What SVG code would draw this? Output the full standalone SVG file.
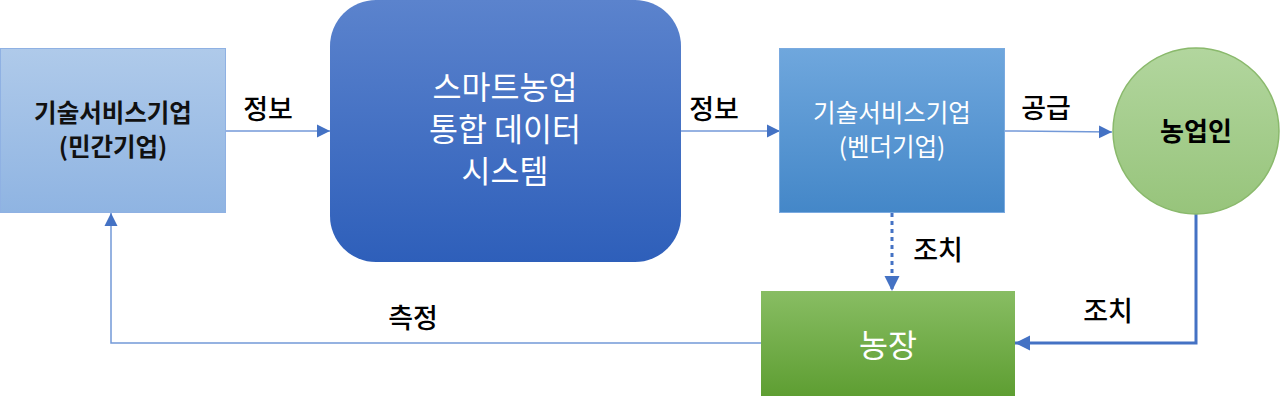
<svg xmlns="http://www.w3.org/2000/svg" width="1280" height="396" viewBox="0 0 1280 396">
<style>
text{font-family:"Noto Sans CJK KR","Noto Sans",sans-serif;text-anchor:middle}
.lbl{font-size:27px;fill:#000;font-weight:500}
.thin{stroke:#7399d8;stroke-width:1.5;fill:none}
.thick{stroke:#4472c4;stroke-width:3;fill:none}
</style>
<defs>
<linearGradient id="g1" x1="0" y1="0" x2="0" y2="1"><stop offset="0" stop-color="#afcaea"/><stop offset="1" stop-color="#8fb4e2"/></linearGradient>
<linearGradient id="g2" x1="0" y1="0" x2="0" y2="1"><stop offset="0" stop-color="#5b83cd"/><stop offset="1" stop-color="#2e5fba"/></linearGradient>
<linearGradient id="g3" x1="0" y1="0" x2="0" y2="1"><stop offset="0" stop-color="#6fa7dd"/><stop offset="1" stop-color="#4487c8"/></linearGradient>
<linearGradient id="g4" x1="0" y1="0" x2="0" y2="1"><stop offset="0" stop-color="#b2d69e"/><stop offset="1" stop-color="#97c47b"/></linearGradient>
<linearGradient id="g5" x1="0" y1="0" x2="0" y2="1"><stop offset="0" stop-color="#88bd63"/><stop offset="1" stop-color="#5e9e32"/></linearGradient>
<marker id="ah" viewBox="0 0 10 10" refX="10" refY="5" markerWidth="13" markerHeight="14" markerUnits="userSpaceOnUse" orient="auto"><path d="M0,0L10,5L0,10z" fill="#4472c4"/></marker>
<marker id="ahb" viewBox="0 0 10 10" refX="10" refY="5" markerWidth="15" markerHeight="17" markerUnits="userSpaceOnUse" orient="auto"><path d="M0,0L10,5L0,10z" fill="#4472c4"/></marker>
</defs>
<g id="connectors">
<line class="thin" x1="226" y1="131" x2="330" y2="131" marker-end="url(#ah)"/>
<line class="thin" x1="681" y1="131" x2="780" y2="131" marker-end="url(#ah)"/>
<line class="thin" x1="1005" y1="131" x2="1112" y2="132" marker-end="url(#ah)"/>
<line class="thick" x1="892" y1="213" x2="892" y2="291" stroke-width="4" stroke-dasharray="4,4" marker-end="url(#ahb)"/>
<polyline class="thick" points="1196,214 1196,343 1015,343" marker-end="url(#ahb)"/>
<polyline class="thin" points="761,343 111,343 111,213" marker-end="url(#ah)"/>
<text class="lbl" x="268" y="119">정보</text>
<text class="lbl" x="714" y="119">정보</text>
<text class="lbl" x="1046" y="118">공급</text>
<text class="lbl" x="938" y="260">조치</text>
<text class="lbl" x="1108" y="321">조치</text>
<text class="lbl" x="413" y="328">측정</text>
</g>
<g id="box1">
<rect x="0.5" y="48.5" width="225" height="164" fill="url(#g1)" stroke="#8fb1e3"/>
<text x="113" y="122" font-size="24.5" font-weight="bold" fill="#111">기술서비스기업</text>
<text x="113" y="156" font-size="24.5" font-weight="bold" fill="#111">(민간기업)</text>
</g>
<g id="box2">
<rect x="330" y="0" width="351" height="262" rx="46" fill="url(#g2)"/>
<text x="505" y="99" font-size="31.5" fill="#fff">스마트농업</text>
<text x="505" y="141" font-size="31.5" fill="#fff">통합 데이터</text>
<text x="505" y="183" font-size="31.5" fill="#fff">시스템</text>
</g>
<g id="box3">
<rect x="779.5" y="48.5" width="225" height="164" fill="url(#g3)" stroke="#7aaae0"/>
<text x="892" y="122" font-size="24.5" fill="#fff">기술서비스기업</text>
<text x="892" y="156" font-size="24.5" fill="#fff">(벤더기업)</text>
</g>
<g id="farmer">
<circle cx="1196" cy="131" r="83" fill="url(#g4)" stroke="#8ab96c" stroke-width="1.5"/>
<text x="1196" y="141" font-size="26" font-weight="bold" fill="#000">농업인</text>
</g>
<g id="farm">
<rect x="761" y="291" width="254" height="105" fill="url(#g5)"/>
<text x="888" y="357" font-size="31.5" fill="#fff">농장</text>
</g>
</svg>
